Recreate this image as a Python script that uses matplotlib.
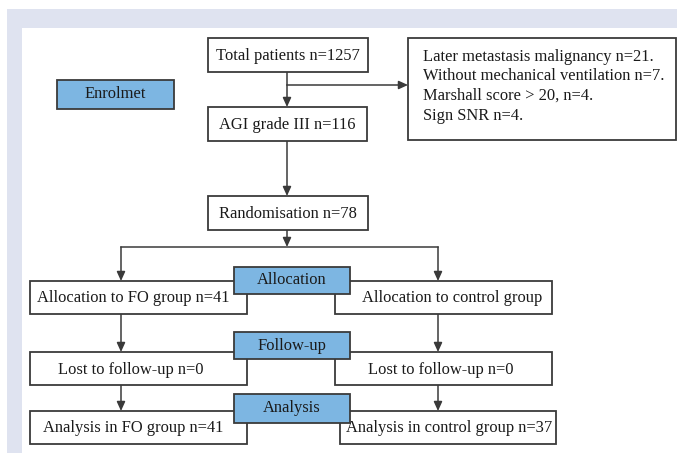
import matplotlib.pyplot as plt
from matplotlib.patches import Rectangle

W, H = 677, 453

# box labels
total_lbl = 'Total patients n=1257'
agi_lbl = 'AGI grade III n=116'
rand_lbl = 'Randomisation n=78'
excl_lines = ['Later metastasis malignancy n=21.',
              'Without mechanical ventilation n=7.',
              'Marshall score > 20, n=4.',
              'Sign SNR n=4.']
stage_lbls = ['Allocation', 'Follow-up', 'Analysis']
fo_lbls = ['Allocation to FO group n=41', 'Lost to follow-up n=0', 'Analysis in FO group n=41']
ctrl_lbls = ['Allocation to control group', 'Lost to follow-up n=0', 'Analysis in control group n=37']

# geometry in pixels (x0, y0, x1, y1)
top_boxes = [(208, 38, 368, 72), (208, 107, 367, 141), (208, 196, 368, 230)]
excl_box = (408, 38, 676, 140)
enrol_box = (57, 80, 174, 109)
stage_boxes = [(234, 267, 350, 294), (234, 332, 350, 359), (234, 394, 350, 423)]
fo_boxes = [(30, 281, 247, 314), (30, 352, 247, 385), (30, 411, 247, 444)]
ctrl_boxes = [(335, 281, 552, 314), (335, 352, 552, 385), (340, 411, 556, 444)]
fo_tx = [133, 131, 133]
ctrl_tx = [452, 441, 449]

edge = '#3a3a3a'
blue = '#7db6e2'
lav = '#dfe3f0'
fs = 11.9
plt.rcParams['font.family'] = ['Liberation Serif', 'DejaVu Serif']

fig = plt.figure(figsize=(W / 100, H / 100), dpi=100)
ax = fig.add_axes([0, 0, 1, 1])
ax.set_xlim(0, W)
ax.set_ylim(H, 0)
ax.axis('off')

# background frame
ax.add_patch(Rectangle((7, 9), W - 7, H - 9, facecolor=lav, edgecolor='none', zorder=0))
ax.add_patch(Rectangle((22, 28), W - 22, H - 28, facecolor='white', edgecolor='none', zorder=0))


def box(b, fc='white', z=2):
    x0, y0, x1, y1 = b
    ax.add_patch(Rectangle((x0, y0), x1 - x0, y1 - y0, facecolor=fc,
                           edgecolor=edge, lw=1.3, zorder=z))


def arrow(x0, y0, x1, y1):
    ax.annotate('', xy=(x1, y1), xytext=(x0, y0),
                arrowprops=dict(arrowstyle='-|>,head_length=0.55,head_width=0.25',
                                color=edge, lw=1.1, shrinkA=0, shrinkB=0), zorder=1)


def label(x, y, s, **kw):
    ax.text(x, y, s, ha='center', va='center', fontsize=fs, color='#1a1a1a', zorder=5, **kw)


for b, s in zip(top_boxes, [total_lbl, agi_lbl, rand_lbl]):
    box(b)
    label((b[0] + b[2]) / 2, (b[1] + b[3]) / 2 + 1, s)

box(excl_box)
for i, s in enumerate(excl_lines):
    ax.text(423, 57 + i * 19.5, s, ha='left', va='center', fontsize=fs, color='#1a1a1a', zorder=5)

box(enrol_box, fc=blue)
label((enrol_box[0] + enrol_box[2]) / 2, (enrol_box[1] + enrol_box[3]) / 2, 'Enrolmet')

# connectors
cx = 287
arrow(cx, 72, cx, 107)
ax.plot([cx, 400], [85, 85], color=edge, lw=1.1, zorder=1)
arrow(399, 85, 408, 85)
arrow(cx, 141, cx, 196)
arrow(cx, 230, cx, 247)
ax.plot([121, 438], [247, 247], color=edge, lw=1.1, zorder=1)
arrow(121, 247, 121, 281)
arrow(438, 247, 438, 281)
for i in range(2):
    arrow(121, fo_boxes[i][3], 121, fo_boxes[i + 1][1])
    arrow(438, ctrl_boxes[i][3], 438, ctrl_boxes[i + 1][1])

for b, s, tx in zip(fo_boxes, fo_lbls, fo_tx):
    box(b)
    label(tx, (b[1] + b[3]) / 2 + 1, s)
for b, s, tx in zip(ctrl_boxes, ctrl_lbls, ctrl_tx):
    box(b)
    label(tx, (b[1] + b[3]) / 2 + 1, s)
for b, s in zip(stage_boxes, stage_lbls):
    box(b, fc=blue, z=3)
    label((b[0] + b[2]) / 2, (b[1] + b[3]) / 2, s)

fig.savefig('out.png', dpi=100)
